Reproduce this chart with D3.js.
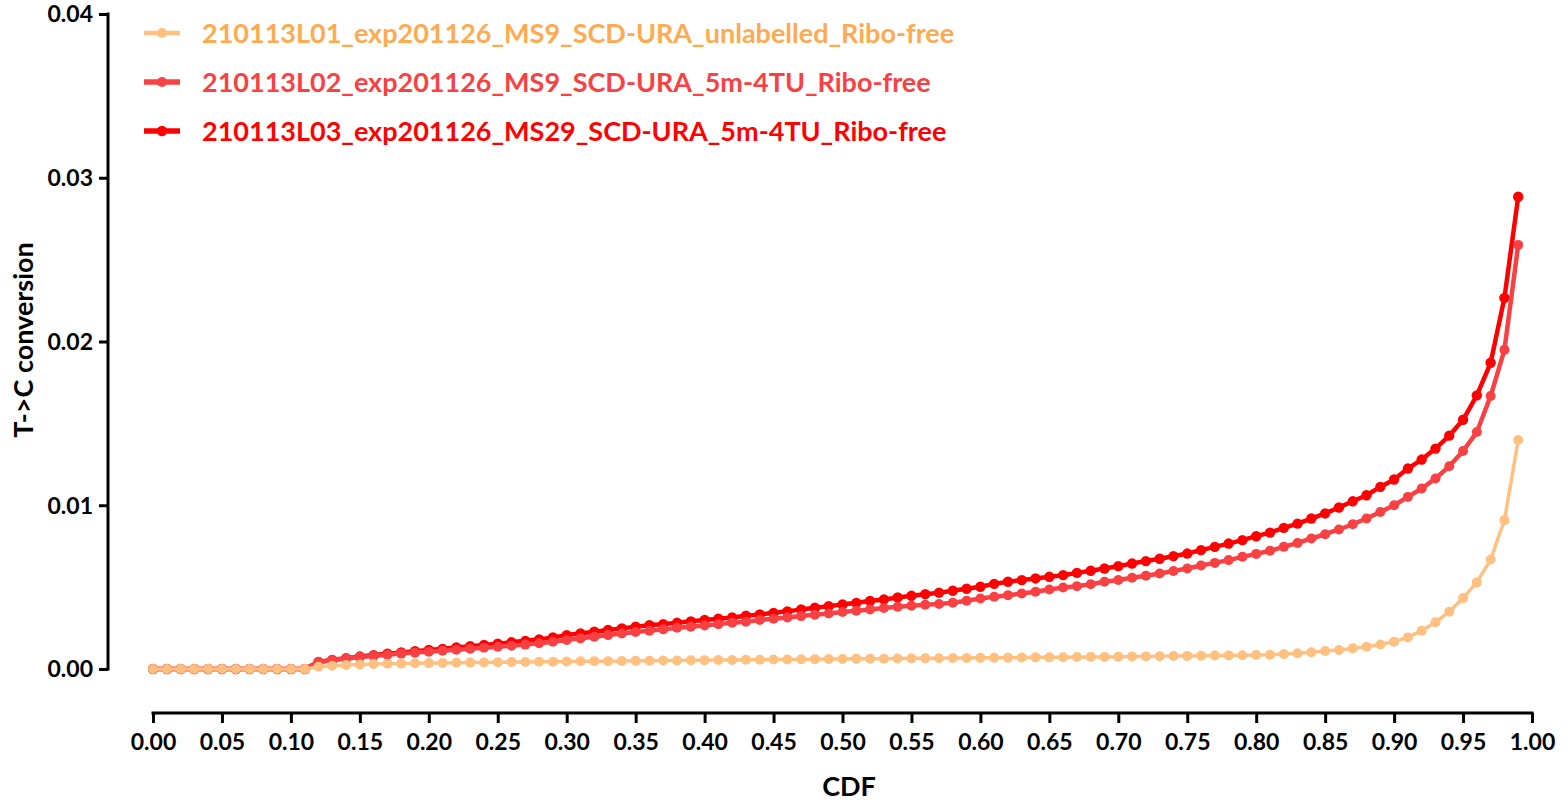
<!DOCTYPE html>
<html>
<head>
<meta charset="utf-8">
<script src="https://cdn.jsdelivr.net/npm/d3@7"></script>
<style>
  html, body { margin: 0; padding: 0; background: #fff; }
  svg { display: block; }
  text { font-family: Lato, "Open Sans", sans-serif; font-weight: 700; }
</style>
</head>
<body>
<svg id="chart" width="1568" height="801"></svg>
<script>
const cdf = [0.00,0.01,0.02,0.03,0.04,0.05,0.06,0.07,0.08,0.09,
  0.10,0.11,0.12,0.13,0.14,0.15,0.16,0.17,0.18,0.19,
  0.20,0.21,0.22,0.23,0.24,0.25,0.26,0.27,0.28,0.29,
  0.30,0.31,0.32,0.33,0.34,0.35,0.36,0.37,0.38,0.39,
  0.40,0.41,0.42,0.43,0.44,0.45,0.46,0.47,0.48,0.49,
  0.50,0.51,0.52,0.53,0.54,0.55,0.56,0.57,0.58,0.59,
  0.60,0.61,0.62,0.63,0.64,0.65,0.66,0.67,0.68,0.69,
  0.70,0.71,0.72,0.73,0.74,0.75,0.76,0.77,0.78,0.79,
  0.80,0.81,0.82,0.83,0.84,0.85,0.86,0.87,0.88,0.89,
  0.90,0.91,0.92,0.93,0.94,0.95,0.96,0.97,0.98,0.99];

const seriesNames = [
  "210113L01_exp201126_MS9_SCD-URA_unlabelled_Ribo-free",
  "210113L02_exp201126_MS9_SCD-URA_5m-4TU_Ribo-free",
  "210113L03_exp201126_MS29_SCD-URA_5m-4TU_Ribo-free"
];

const L01 = [0,0,0,0,0,0,0,0,0,0,
  0,0,0.00014,0.00020,0.00024,0.00028,0.00030,0.00032,0.00033,0.00035,
  0.00036,0.00037,0.00038,0.00039,0.00040,0.00041,0.00042,0.00043,0.00044,0.00045,
  0.00046,0.00047,0.00048,0.00048,0.00049,0.00050,0.00051,0.00052,0.00052,0.00053,
  0.00054,0.00055,0.00055,0.00056,0.00057,0.00058,0.00058,0.00059,0.00060,0.00061,
  0.00061,0.00062,0.00063,0.00063,0.00064,0.00065,0.00065,0.00066,0.00067,0.00067,
  0.00068,0.00069,0.00069,0.00070,0.00071,0.00071,0.00072,0.00073,0.00074,0.00074,
  0.00075,0.00076,0.00077,0.00078,0.00079,0.00080,0.00081,0.00082,0.00083,0.00084,
  0.00085,0.00087,0.00091,0.00096,0.00102,0.00110,0.00116,0.00126,0.00136,0.00150,
  0.00167,0.00193,0.00234,0.00285,0.00350,0.00433,0.00529,0.00669,0.00909,0.01398];

const L02 = [0,0,0,0,0,0,0,0,0,0,
  0,0,0.00042,0.00054,0.00064,0.00073,0.00080,0.00087,0.00094,0.00100,
  0.00106,0.00112,0.00118,0.00124,0.00130,0.00136,0.00142,0.00149,0.00157,0.00167,
  0.00177,0.00187,0.00197,0.00207,0.00217,0.00226,0.00234,0.00242,0.00252,0.00258,
  0.00266,0.00274,0.00282,0.00289,0.00299,0.00307,0.00315,0.00323,0.00331,0.00339,
  0.00348,0.00356,0.00364,0.00372,0.00380,0.00386,0.00392,0.00397,0.00405,0.00417,
  0.00431,0.00441,0.00451,0.00461,0.00472,0.00486,0.00498,0.00506,0.00518,0.00533,
  0.00543,0.00557,0.00569,0.00583,0.00598,0.00614,0.00632,0.00648,0.00665,0.00685,
  0.00703,0.00722,0.00746,0.00770,0.00797,0.00823,0.00852,0.00884,0.00919,0.00959,
  0.01000,0.01051,0.01102,0.01163,0.01238,0.01331,0.01447,0.01667,0.01949,0.02590];

const L03 = [0,0,0,0,0,0,0,0,0,0,
  0,0,0.00043,0.00056,0.00066,0.00076,0.00085,0.00093,0.00101,0.00109,
  0.00116,0.00123,0.00131,0.00139,0.00147,0.00155,0.00163,0.00172,0.00181,0.00193,
  0.00207,0.00217,0.00228,0.00238,0.00248,0.00258,0.00268,0.00274,0.00282,0.00291,
  0.00299,0.00307,0.00315,0.00325,0.00333,0.00343,0.00352,0.00364,0.00374,0.00384,
  0.00394,0.00404,0.00415,0.00425,0.00437,0.00447,0.00457,0.00466,0.00478,0.00490,
  0.00502,0.00520,0.00533,0.00543,0.00553,0.00563,0.00573,0.00587,0.00600,0.00614,
  0.00628,0.00644,0.00659,0.00673,0.00689,0.00705,0.00726,0.00746,0.00766,0.00787,
  0.00811,0.00833,0.00862,0.00888,0.00919,0.00950,0.00986,0.01024,0.01061,0.01112,
  0.01157,0.01224,0.01279,0.01346,0.01425,0.01522,0.01671,0.01870,0.02266,0.02884];

const xTicks = [0.00,0.05,0.10,0.15,0.20,0.25,0.30,0.35,0.40,0.45,0.50,0.55,0.60,0.65,0.70,0.75,0.80,0.85,0.90,0.95,1.00];
const yTicks = [0.00,0.01,0.02,0.03,0.04];

const lineColors = ["#FFC080", "#F94144", "#FF0000"];
const textColors = ["#FFAA50", "#F94144", "#FF0000"];

const svg = d3.select("#chart");
const x = d3.scaleLinear().domain([0, 1]).range([153, 1532]);
const y = d3.scaleLinear().domain([0, 0.04]).range([669, 14]);

// Y axis
const yAxis = d3.axisLeft(y).tickValues(yTicks).tickFormat(d3.format(".2f")).tickSize(9).tickPadding(6);
const gy = svg.append("g").attr("transform", "translate(108,0)").call(yAxis);
gy.select(".domain").attr("stroke", "#000").attr("stroke-width", 3).attr("d", `M0,${y(0.04)-1.5}V${y(0)+1.5}`);
gy.selectAll(".tick line").attr("stroke", "#000").attr("stroke-width", 3);
gy.selectAll(".tick text").attr("fill", "#000").attr("dy", "0.34em").style("font-size", "23px").style("font-family", "Lato").style("font-weight", 700);

// X axis
const xAxis = d3.axisBottom(x).tickValues(xTicks).tickFormat(d3.format(".2f")).tickSize(10).tickPadding(11);
const gx = svg.append("g").attr("transform", "translate(0,713)").call(xAxis);
gx.select(".domain").attr("stroke", "#000").attr("stroke-width", 3).attr("d", `M${x(0)-1.5},0H${x(1)+1.5}`);
gx.selectAll(".tick line").attr("stroke", "#000").attr("stroke-width", 3);
gx.selectAll(".tick text").attr("fill", "#000").style("font-size", "23px").style("font-family", "Lato").style("font-weight", 700);

// Axis titles
svg.append("text").attr("x", 849).attr("y", 796).attr("text-anchor", "middle")
  .style("font-size", "27px").attr("fill", "#000").text("CDF");
svg.append("text").attr("transform", "translate(33,340) rotate(-90)").attr("text-anchor", "middle")
  .style("font-size", "27px").attr("fill", "#000").text("T->C conversion");

// Series (draw L03, then L02, then L01 on top)
const allSeries = [L01, L02, L03];
const widths = [3.5, 4.5, 4.5];
const radii = [5, 5, 5.2];
const line = d3.line().x(d => x(d[0])).y(d => y(d[1]));
[2, 1, 0].forEach(i => {
  const pts = cdf.map((c, j) => [c, allSeries[i][j]]);
  const g = svg.append("g");
  g.append("path").datum(pts).attr("d", line).attr("fill", "none")
    .attr("stroke", lineColors[i]).attr("stroke-width", widths[i]).attr("stroke-linejoin", "round");
  g.selectAll("circle").data(pts).enter().append("circle")
    .attr("cx", d => x(d[0])).attr("cy", d => y(d[1])).attr("r", radii[i]).attr("fill", lineColors[i]);
});

// Legend
const legendY = [33, 82, 131];
seriesNames.forEach((name, i) => {
  const g = svg.append("g").attr("transform", `translate(0,${legendY[i]})`);
  g.append("line").attr("x1", 144).attr("x2", 180).attr("y1", 0).attr("y2", 0)
    .attr("stroke", lineColors[i]).attr("stroke-width", widths[i] + 1);
  g.append("circle").attr("cx", 162).attr("cy", 0).attr("r", radii[i]).attr("fill", lineColors[i]);
  g.append("text").attr("x", 202).attr("y", 0).attr("dy", "0.36em")
    .style("font-size", "27px").attr("fill", textColors[i]).text(name);
});
</script>
</body>
</html>
